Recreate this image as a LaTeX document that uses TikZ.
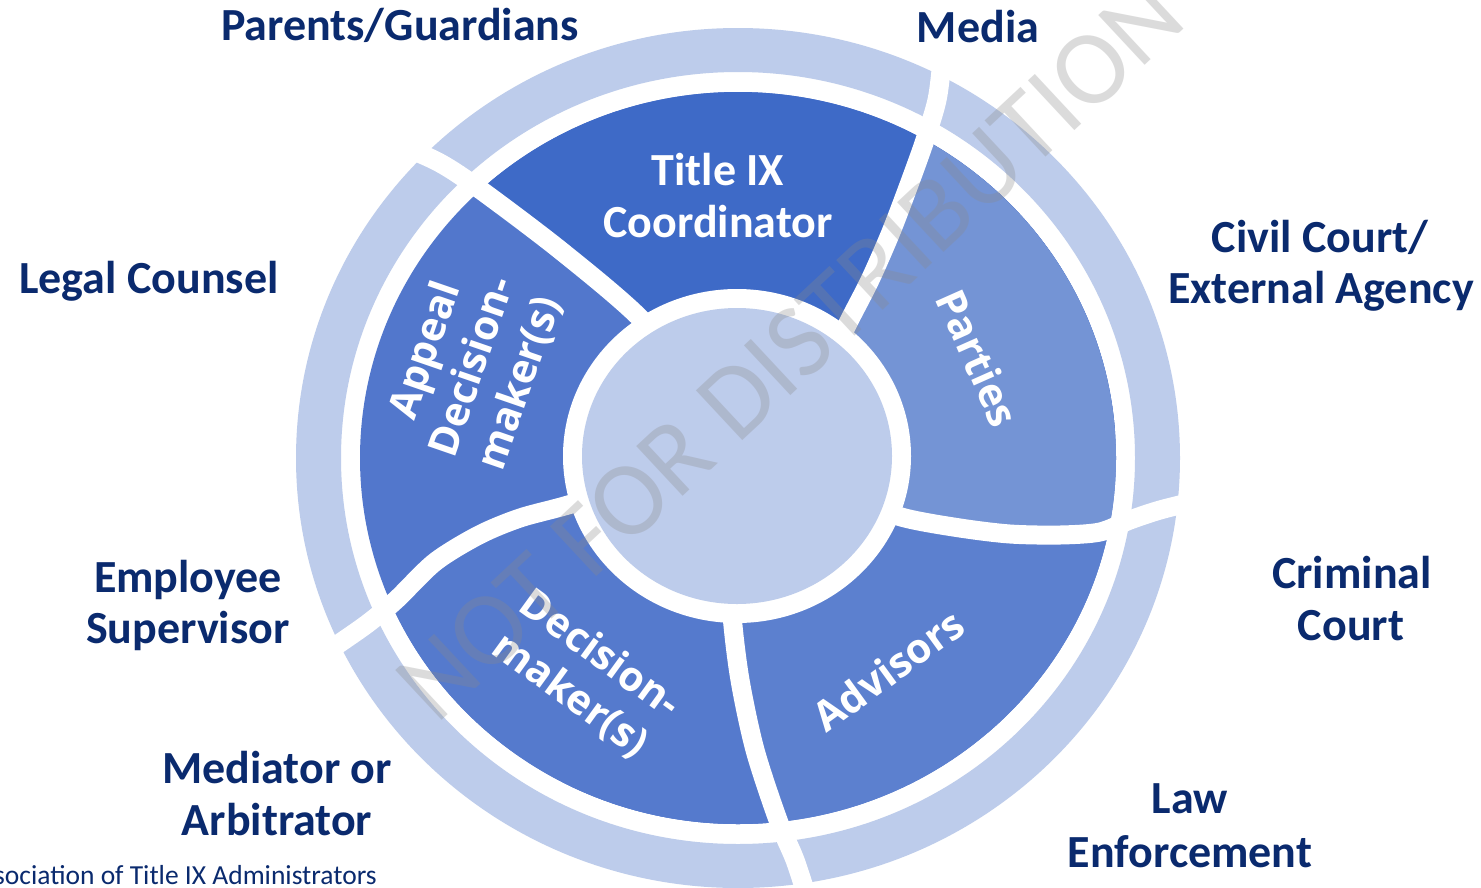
\documentclass[tikz,border=0pt]{standalone}
\usepackage{fontspec}
\setmainfont{Carlito}
\newfontfamily\osans{Open Sans}
\definecolor{ringlight}{RGB}{189,204,235}
\definecolor{titleblue}{RGB}{62,106,199}
\definecolor{partiesblue}{RGB}{116,148,213}
\definecolor{advisorsblue}{RGB}{92,128,207}
\definecolor{decisionblue}{RGB}{85,122,205}
\definecolor{appealblue}{RGB}{82,119,204}
\definecolor{navy}{RGB}{10,42,110}
\definecolor{wmgray}{RGB}{138,138,138}
\begin{document}
\begin{tikzpicture}[x=1pt,y=-1pt,
  lbl/.style={font=\fontsize{46}{52}\selectfont\bfseries, text=navy, anchor=base, inner sep=0pt},
  seglbl/.style={font=\osans\fontsize{41}{50}\selectfont\bfseries, text=white, align=center, inner sep=0pt},
  titlelbl/.style={font=\fontsize{46}{53}\selectfont\bfseries, text=white, anchor=base, inner sep=0pt},
  sepline/.style={white, line width=19pt},
  wmark/.style={font=\fontsize{106}{110}\selectfont, text=wmgray, text opacity=0.3, inner sep=0pt}]
\useasboundingbox (0,0) rectangle (1481,887);
\clip (0,0) rectangle (1481,887);
\fill[white] (0,0) rectangle (1481,887);
% outer ring
\fill[ringlight, even odd rule] (738,458) ellipse [x radius=442pt, y radius=430pt]
  (738,458) ellipse [x radius=397pt, y radius=386pt];
% inner ring segments
\begin{scope}
\clip (738,458) ellipse [x radius=378pt, y radius=366pt];
\fill[appealblue] (0,0) rectangle (1481,887);
\fill[titleblue] (737,456) -- plot[smooth] coordinates {(700,390) (640,318) (560,250) (478,188) (440,163) (400,145) (360,128)}
  -- (300,-200) -- (1000,-400) -- (1800,-400) -- (1800,380) -- cycle;
\fill[partiesblue] (737,456) -- plot[smooth] coordinates {(810,400) (847,325) (870,280) (891,232) (910,182) (925,140) (937,100) (942,60) (946,10)}
  -- (950,-400) -- (1800,-400) -- (1800,1400) -- (1500,1300) -- cycle;
\fill[advisorsblue] (737,456) -- plot[smooth] coordinates {(850,500) (905,518) (960,528) (1010,534) (1060,535) (1100,532) (1130,520) (1160,510) (1200,500)}
  -- (1800,500) -- (1800,1500) -- (250,1500) -- (250,1400) -- cycle;
\fill[decisionblue] (737,456) -- plot[smooth] coordinates {(728,540) (732,615) (740,680) (755,750) (778,820) (795,860) (808,900)}
  -- (815,1500) -- (-300,1500) -- (-300,700)
  -- plot[smooth] coordinates {(290,680) (330,650) (367,624) (396,600) (435,562) (479,535) (520,518) (568,505) (650,480)} -- cycle;
\end{scope}
% separators
\draw[sepline] plot[smooth] coordinates {(700,390) (640,318) (560,250) (478,188) (440,163) (400,145) (360,128)};
\draw[sepline] plot[smooth] coordinates {(810,400) (847,325) (870,280) (891,232) (910,182) (925,140) (937,100) (942,60) (946,10)};
\draw[sepline] plot[smooth] coordinates {(850,500) (905,518) (960,528) (1010,534) (1060,535) (1100,532) (1130,520) (1160,510) (1200,500)};
\draw[sepline] plot[smooth] coordinates {(728,540) (732,615) (740,680) (755,750) (778,820) (795,860) (808,900)};
\draw[sepline] plot[smooth] coordinates {(650,480) (568,505) (520,518) (479,535) (435,562) (396,600) (367,624) (330,650) (290,680)};
% centre
\fill[white] (737,456) ellipse [x radius=174pt, y radius=167pt];
\fill[ringlight] (737,456) ellipse [x radius=155pt, y radius=148pt];
% segment labels
\node[titlelbl] (title1) at (718,185) {Title IX};
\node[titlelbl] (title2) at (718,237) {Coordinator};
\node[seglbl, rotate=-66] (parties) at (978,358) {Parties};
\node[seglbl, rotate=36] (advisors) at (888,670) {Advisors};
\node[seglbl, rotate=-36] (decision) at (585,675) {Decision-\\maker(s)};
\node[seglbl, rotate=71] (appeal) at (473,367) {Appeal\\Decision-\\maker(s)};
% outer labels
\node[lbl] (parents) at (400,40) {Parents/Guardians};
\node[lbl] (media) at (978,42) {Media};
\node[lbl] (legal) at (149,293) {Legal Counsel};
\node[lbl] (civil1) at (1320,252) {Civil Court/};
\node[lbl] (civil2) at (1321,303) {External Agency};
\node[lbl] (crim1) at (1352,588) {Criminal};
\node[lbl] (crim2) at (1351,640) {Court};
\node[lbl] (law1) at (1190,813) {Law};
\node[lbl] (law2) at (1190,867) {Enforcement};
\node[lbl] (emp1) at (188,592) {Employee};
\node[lbl] (emp2) at (188,643) {Supervisor};
\node[lbl] (med1) at (277,783) {Mediator or};
\node[lbl] (med2) at (277,835) {Arbitrator};
\node[font=\fontsize{27.5}{30}\selectfont, text=navy, anchor=base east, inner sep=0pt] (credit) at (377,884) {sociation of Title IX Administrators};
% watermark
\node[wmark, rotate=43] (wm) at (790,350) {NOT FOR DISTRIBUTION};
\end{tikzpicture}
\end{document}
